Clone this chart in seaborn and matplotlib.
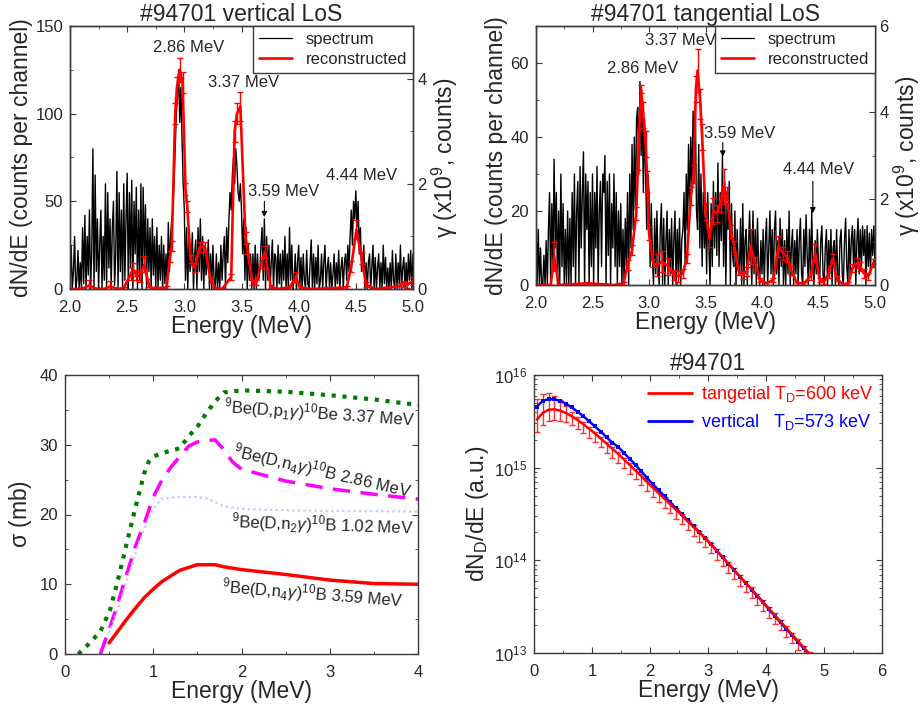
import numpy as np
import matplotlib
matplotlib.use('Agg')
import matplotlib.pyplot as plt
from matplotlib.lines import Line2D
from matplotlib.ticker import MultipleLocator, LogLocator, NullFormatter
import seaborn as sns

sns.set_style('ticks')
plt.rcParams['font.family'] = ['Liberation Sans', 'DejaVu Sans']
plt.rcParams['mathtext.fontset'] = 'custom'
plt.rcParams['mathtext.rm'] = 'Liberation Sans'
plt.rcParams['mathtext.it'] = 'Liberation Sans:italic'
plt.rcParams['mathtext.bf'] = 'Liberation Sans:bold'

# ---------------------------------------------------------------- data
# gamma spectra, channel energy grid 2.00 .. 5.00 MeV (0.01 MeV)
spec_energy = np.round(2.0 + 0.01 * np.arange(301), 2)

vert_counts = [
    0, 25, 0, 10, 30, 0, 5, 22, 0, 15,
    0, 35, 3, 42, 0, 30, 8, 45, 0, 20,
    80, 0, 65, 10, 40, 0, 25, 45, 0, 30,
    5, 60, 0, 55, 12, 40, 0, 35, 50, 2,
    20, 67, 0, 55, 10, 45, 0, 60, 5, 40,
    66, 0, 55, 12, 62, 0, 50, 20, 58, 0,
    45, 5, 60, 0, 58, 15, 48, 0, 40, 10,
    35, 0, 40, 8, 30, 0, 35, 0, 25, 5,
    30, 0, 25, 3, 20, 0, 38, 10, 30, 40,
    45, 60, 80, 100, 110, 125, 95, 115, 85, 60,
    45, 5, 35, 0, 30, 10, 15, 32, 0, 20,
    28, 0, 35, 10, 40, 5, 30, 0, 25, 8,
    15, 28, 0, 20, 0, 25, 5, 0, 20, 0,
    15, 0, 25, 5, 20, 30, 0, 35, 15, 40,
    55, 45, 65, 75, 60, 80, 70, 55, 50, 60,
    45, 20, 40, 5, 35, 0, 25, 5, 20, 0,
    20, 0, 25, 0, 20, 5, 10, 25, 35, 5,
    40, 0, 30, 5, 25, 0, 15, 28, 0, 20,
    18, 0, 25, 3, 20, 0, 22, 5, 30, 0,
    20, 0, 35, 5, 25, 0, 5, 20, 0, 15,
    25, 0, 18, 0, 20, 5, 0, 22, 3, 0,
    15, 28, 0, 20, 0, 18, 3, 25, 0, 5,
    20, 0, 15, 25, 0, 12, 18, 0, 15, 0,
    8, 20, 0, 15, 3, 22, 0, 12, 18, 0,
    15, 20, 5, 25, 10, 30, 45, 25, 50, 40,
    56, 35, 50, 20, 35, 10, 15, 25, 0, 15,
    0, 15, 20, 0, 12, 25, 0, 18, 0, 12,
    20, 0, 15, 0, 25, 3, 18, 0, 12, 0,
    15, 0, 22, 5, 0, 20, 0, 15, 3, 25,
    0, 12, 18, 0, 15, 0, 20, 5, 22, 0, 20,
]

tang_counts = [
    19, 0, 15, 0, 10, 0, 0, 8, 0, 12,
    0, 15, 25, 0, 22, 5, 34, 10, 25, 0,
    20, 0, 30, 5, 22, 0, 15, 0, 20, 0,
    18, 0, 25, 5, 30, 0, 20, 28, 0, 32,
    10, 25, 36, 0, 30, 15, 28, 0, 25, 5,
    30, 0, 25, 10, 32, 0, 20, 28, 5, 30,
    25, 35, 0, 28, 8, 30, 0, 22, 10, 30,
    5, 25, 0, 20, 5, 22, 0, 15, 0, 18,
    5, 25, 0, 30, 10, 38, 15, 40, 20, 45,
    48, 30, 55, 35, 50, 25, 45, 30, 15, 30,
    25, 5, 22, 8, 0, 18, 3, 20, 5, 0,
    15, 22, 0, 18, 0, 12, 20, 0, 15, 3,
    18, 0, 12, 20, 0, 15, 3, 18, 0, 12,
    15, 25, 5, 30, 15, 38, 20, 40, 25, 47,
    35, 48, 20, 15, 38, 10, 30, 5, 25, 10,
    20, 3, 25, 10, 0, 22, 5, 28, 10, 25,
    8, 33, 5, 25, 12, 35, 5, 28, 0, 22,
    15, 28, 0, 22, 8, 5, 20, 0, 15, 5,
    3, 18, 0, 22, 0, 12, 15, 0, 10, 20,
    8, 0, 20, 3, 15, 0, 18, 5, 0, 12,
    3, 15, 0, 12, 18, 0, 10, 20, 3, 15,
    0, 15, 20, 3, 12, 0, 18, 5, 15, 0,
    12, 0, 15, 3, 20, 0, 10, 15, 0, 12,
    3, 15, 0, 12, 18, 3, 0, 15, 5, 19,
    8, 0, 15, 3, 20, 5, 0, 12, 3, 15,
    5, 0, 12, 16, 3, 0, 10, 15, 0, 12,
    3, 15, 0, 10, 12, 0, 15, 3, 0, 12,
    15, 3, 0, 12, 18, 5, 0, 15, 3, 12,
    16, 5, 15, 0, 12, 18, 3, 15, 5, 16,
    8, 15, 0, 16, 5, 14, 3, 15, 8, 16, 5,
]

# reconstructed gamma yield (x1e9 counts), vertical LoS
vert_rec_e = [2.00, 2.10, 2.17, 2.22, 2.30, 2.35, 2.42, 2.47, 2.535, 2.55,
              2.58, 2.61, 2.65, 2.685, 2.71, 2.815, 2.845, 2.875, 2.89, 2.92,
              2.935, 2.96, 2.985, 3.01, 3.025, 3.055, 3.09, 3.135, 3.18, 3.23,
              3.27, 3.33, 3.41, 3.44, 3.46, 3.49, 3.535, 3.55, 3.595, 3.63,
              3.675, 3.705, 3.755, 3.81, 3.92, 3.975, 4.01, 4.10, 4.42, 4.46,
              4.505, 4.55, 4.59, 4.665, 4.88, 4.91, 4.95, 5.00]
vert_rec = [0, 0, 0.07, 0.01, 0, 0.05, 0, 0.02, 0.30, 0.37,
            0.27, 0.23, 0.47, 0.11, 0.02, 0.02, 0.03, 0.62, 0.82, 3.33,
            3.83, 4.17, 3.93, 1.90, 1.57, 0.57, 0.40, 0.80, 0.80, 0.17,
            0.02, 0, 0.23, 3.00, 3.33, 3.47, 0.97, 0.77, 0.13, 0.13,
            0.50, 0.70, 0.05, 0, 0.03, 0.23, 0.03, 0, 0.03, 0.43,
            1.13, 0.59, 0.08, 0, 0.05, 0.10, 0.08, 0.15]
vert_rec_err = [0.01, 0.01, 0.10, 0.01, 0.01, 0.10, 0.01, 0.02, 0.12, 0.12,
                0.10, 0.10, 0.15, 0.08, 0.02, 0.02, 0.03, 0.10, 0.10, 0.20,
                0.20, 0.23, 0.20, 0.12, 0.10, 0.08, 0.08, 0.10, 0.10, 0.06,
                0.02, 0.01, 0.06, 0.20, 0.20, 0.27, 0.12, 0.10, 0.05, 0.05,
                0.10, 0.11, 0.03, 0.01, 0.03, 0.10, 0.03, 0.01, 0.03, 0.10,
                0.18, 0.12, 0.05, 0.01, 0.06, 0.06, 0.06, 0.08]

# reconstructed gamma yield (x1e9 counts), tangential LoS
tang_rec_e = [2.00, 2.13, 2.162, 2.20, 2.45, 2.69, 2.775, 2.81, 2.85, 2.887,
              2.905, 2.93, 2.95, 2.97, 2.985, 3.00, 3.035, 3.07, 3.115, 3.17,
              3.22, 3.26, 3.30, 3.335, 3.37, 3.395, 3.415, 3.43, 3.455, 3.47,
              3.50, 3.535, 3.57, 3.60, 3.635, 3.66, 3.69, 3.725, 3.755, 3.79,
              3.83, 3.865, 3.90, 3.94, 3.98, 4.04, 4.10, 4.145, 4.185, 4.22,
              4.26, 4.31, 4.37, 4.43, 4.47, 4.51, 4.55, 4.59, 4.625, 4.66,
              4.72, 4.765, 4.80, 4.84, 4.87, 4.90, 4.94, 4.985]
tang_rec = [0, 0, 0.66, 0, 0.04, 0, 0.04, 0.46, 0.81, 1.66,
            2.97, 4.54, 3.94, 3.26, 2.40, 1.20, 0.51, 0.46, 0.54, 0.43,
            0.23, 0.20, 0.27, 0.62, 2.06, 2.57, 4.54, 4.97, 4.20, 3.43,
            1.71, 1.08, 1.71, 1.66, 1.89, 2.28, 2.06, 1.23, 0.89, 0.34,
            0.23, 0.31, 0.89, 0.51, 0.12, 0.04, 0.12, 0.89, 0.74, 0.66,
            0.34, 0.04, 0.04, 0.20, 0.74, 0.12, 0.08, 0.27, 0.62, 0.15,
            0, 0.04, 0.39, 0.51, 0.43, 0.27, 0.20, 0.51]
tang_rec_err = [0.01, 0.01, 0.34, 0.01, 0.03, 0.01, 0.03, 0.12, 0.12, 0.15,
                0.30, 0.10, 0.30, 0.30, 0.25, 0.15, 0.10, 0.25, 0.25, 0.20,
                0.12, 0.12, 0.10, 0.10, 0.20, 0.20, 0.30, 0.50, 0.35, 0.30,
                0.20, 0.20, 0.30, 0.20, 0.20, 0.40, 0.20, 0.15, 0.12, 0.10,
                0.10, 0.10, 0.40, 0.15, 0.05, 0.03, 0.05, 0.25, 0.15, 0.12,
                0.10, 0.03, 0.03, 0.08, 0.20, 0.05, 0.05, 0.10, 0.10, 0.05,
                0.01, 0.03, 0.10, 0.12, 0.10, 0.10, 0.08, 0.10]

# cross sections (mb)
xs_p1_e = [0.15, 0.25, 0.4, 0.51, 0.6, 0.7, 0.8, 0.9, 0.95, 1.0, 1.1,
           1.3, 1.4, 1.5, 1.6, 1.7, 1.8, 2.0, 2.5, 3.0, 3.5, 4.0]
xs_p1 = [0, 1.2, 3.2, 6.3, 10.6, 15.9, 21.1, 26.0, 27.6, 28.3, 28.8,
         29.5, 31.2, 32.6, 34.5, 36.2, 37.5, 37.8, 37.6, 37.1, 36.5, 35.7]
xs_n4_286_e = [0.4, 0.5, 0.6, 0.7, 0.8, 0.9, 1.0, 1.1, 1.2, 1.3, 1.4,
               1.5, 1.6, 1.7, 1.8, 1.9, 2.0, 2.5, 3.0, 3.5, 4.0]
xs_n4_286 = [0, 3.5, 7.3, 11.5, 15.5, 18.8, 22.5, 25.0, 26.8, 28.3, 29.8,
             30.4, 30.6, 30.7, 29.3, 27.5, 26.5, 24.8, 23.7, 22.9, 22.2]
xs_n2_e = [0.5, 0.6, 0.7, 0.8, 0.9, 1.0, 1.1, 1.3, 1.5, 1.6, 1.7, 1.8,
           2.0, 2.5, 3.0, 3.5, 4.0]
xs_n2 = [3.0, 6.5, 10.5, 14.5, 18.0, 20.8, 22.3, 22.5, 22.5, 22.3, 21.8, 21.2,
         20.8, 20.6, 20.5, 20.5, 20.4]
xs_n4_359_e = [0.5, 0.6, 0.7, 0.8, 0.9, 1.0, 1.1, 1.2, 1.3, 1.4, 1.5, 1.6,
               1.7, 1.8, 2.0, 2.5, 3.0, 3.5, 4.0]
xs_n4_359 = [1.6, 3.3, 5.0, 6.6, 8.1, 9.3, 10.4, 11.2, 12.0, 12.4, 12.8, 12.8,
             12.8, 12.5, 12.1, 11.4, 10.6, 10.1, 10.0]

# deuteron energy distribution, log10(dN_D/dE)
edf_energy = np.round(0.05 + 0.1 * np.arange(48), 2)
edf_vert_log = [15.66, 15.72, 15.74, 15.74, 15.72, 15.69, 15.65, 15.605,
                15.555, 15.50, 15.445, 15.39, 15.33, 15.27, 15.225, 15.16,
                15.095, 15.03, 14.96, 14.89, 14.82, 14.755, 14.69, 14.625,
                14.56, 14.495, 14.43, 14.37, 14.305, 14.24, 14.175, 14.105,
                14.035, 13.965, 13.895, 13.825, 13.755, 13.685, 13.615, 13.545,
                13.47, 13.40, 13.33, 13.26, 13.19, 13.12, 13.05, 12.98]
edf_tang_log = [15.52, 15.59, 15.625, 15.63, 15.615, 15.59, 15.555, 15.515,
                15.47, 15.42, 15.37, 15.315, 15.26, 15.205, 15.15, 15.09,
                15.03, 14.97, 14.91, 14.845, 14.785, 14.725, 14.665, 14.605,
                14.545, 14.485, 14.42, 14.36, 14.30, 14.24, 14.175, 14.105,
                14.035, 13.965, 13.895, 13.825, 13.755, 13.69, 13.62, 13.55,
                13.48, 13.41, 13.34, 13.27, 13.20, 13.13, 13.06, 12.99]
# relative error bars (fraction of value) of the tangential distribution
edf_tang_err_up = [0.68, 0.60, 0.50, 0.40, 0.30, 0.20, 0.12, 0.08, 0.05, 0.04,
                   0.04, 0.04, 0.04, 0.04, 0.04, 0.04, 0.04, 0.04, 0.04, 0.04,
                   0.04, 0.04, 0.04, 0.04, 0.04, 0.04, 0.04, 0.04, 0.04, 0.04,
                   0.04, 0.04, 0.04, 0.04, 0.04, 0.04, 0.04, 0.04, 0.04, 0.04,
                   0.04, 0.04, 0.04, 0.04, 0.04, 0.04, 0.04, 0.04]
edf_tang_err_lo = [0.26, 0.25, 0.24, 0.23, 0.22, 0.21, 0.20, 0.20, 0.20, 0.20,
                   0.20, 0.20, 0.20, 0.20, 0.20, 0.20, 0.20, 0.20, 0.20, 0.20,
                   0.20, 0.20, 0.20, 0.20, 0.20, 0.20, 0.20, 0.20, 0.20, 0.20,
                   0.20, 0.20, 0.20, 0.20, 0.20, 0.20, 0.20, 0.20, 0.20, 0.20,
                   0.20, 0.20, 0.20, 0.20, 0.20, 0.20, 0.20, 0.20]

# ---------------------------------------------------------------- style
FS_TICK = 12
FS_LAB = 16.5
FS_ANN = 12
SPINE = '#3a3a3a'

W, H = 922, 706
fig = plt.figure(figsize=(W / 100, H / 100), dpi=100)


def box(left, right, top, bottom):
    return [left / W, 1 - bottom / H, (right - left) / W, (bottom - top) / H]


def style_axes(ax, top=True, right=True):
    for s in ax.spines.values():
        s.set_color(SPINE)
        s.set_linewidth(1.0)
    ax.tick_params(which='both', direction='in', top=top, right=right,
                   labelsize=FS_TICK, color=SPINE)
    ax.tick_params(axis='x', pad=8)
    ax.tick_params(axis='y', pad=5)
    ax.tick_params(which='major', length=4)
    ax.tick_params(which='minor', length=2.5)


def spectrum_panel(rect, counts, rec_e, rec, rec_err, ymax, gmax, ymaj, title, notes):
    ax = fig.add_axes(rect)
    sns.lineplot(x=spec_energy, y=counts, ax=ax, color='black', lw=1.0)
    ax.set_xlim(2.0, 5.0)
    ax.set_ylim(0, ymax)
    ax.xaxis.set_major_locator(MultipleLocator(0.5))
    ax.xaxis.set_minor_locator(MultipleLocator(0.25))
    ax.yaxis.set_major_locator(MultipleLocator(ymaj))
    ax.yaxis.set_minor_locator(MultipleLocator(ymaj / 2))
    style_axes(ax, top=True, right=False)
    ax.set_xlabel('Energy (MeV)', fontsize=FS_LAB, labelpad=0)
    ax.set_ylabel('dN/dE (counts per channel)', fontsize=FS_LAB, labelpad=2)
    ax.set_title(title, fontsize=FS_LAB, pad=3)

    ax2 = ax.twinx()
    ax2.errorbar(rec_e, rec, yerr=rec_err, color='red', lw=1.9, elinewidth=1,
                 capsize=2.5, capthick=1)
    ax2.set_ylim(0, gmax)
    ax2.yaxis.set_major_locator(MultipleLocator(2))
    ax2.yaxis.set_minor_locator(MultipleLocator(1))
    style_axes(ax2, top=False, right=True)
    ax2.tick_params(which='both', left=False)
    ax2.tick_params(axis='y', pad=3)
    ax2.set_ylabel(r'$\mathrm{\gamma}$ (x10$^{9}$, counts)', fontsize=FS_LAB,
                   labelpad=2)

    for txt, x, y, arrow in notes:
        ax.text(x, y, txt, fontsize=FS_ANN, ha='center', va='center')
        if arrow is not None:
            ax.annotate('', xy=(arrow[0], arrow[2]), xytext=(arrow[0], arrow[1]),
                        arrowprops=dict(arrowstyle='-|>', color='black', lw=0.8,
                                        mutation_scale=8, shrinkA=0, shrinkB=0))

    handles = [Line2D([], [], color='black', lw=0.9),
               Line2D([], [], color='red', lw=1.9)]
    leg = ax2.legend(handles, ['spectrum', 'reconstructed'], loc='upper right',
                     fontsize=FS_ANN, fancybox=False, framealpha=1,
                     edgecolor=SPINE, borderaxespad=0, handlelength=2.0,
                     borderpad=0.35, labelspacing=0.3)
    leg.get_frame().set_linewidth(1.0)
    return ax, ax2


# ---------------------------------------------------------------- top left
spectrum_panel(box(70, 413, 26, 289), vert_counts, vert_rec_e, vert_rec, vert_rec_err,
               150, 5, 50, '#94701 vertical LoS',
               [('2.86 MeV', 3.04, 137.5, None),
                ('3.37 MeV', 3.52, 118, None),
                ('3.59 MeV', 3.87, 55.5, (3.70, 50, 41)),
                ('4.44 MeV', 4.55, 65, None)])

# ---------------------------------------------------------------- top right
spectrum_panel(box(536, 875, 26, 285), tang_counts, tang_rec_e, tang_rec, tang_rec_err,
               70, 6, 20, '#94701 tangential LoS',
               [('2.86 MeV', 2.94, 58.4, None),
                ('3.37 MeV', 3.28, 66.2, None),
                ('3.59 MeV', 3.80, 40.9, (3.653, 38.5, 34.7)),
                ('4.44 MeV', 4.50, 31.1, (4.45, 28.0, 19.4))])

# ---------------------------------------------------------------- bottom left
ax3 = fig.add_axes(box(65, 418, 375, 654))
sns.lineplot(x=xs_p1_e, y=xs_p1, ax=ax3, color='#007a00', lw=3,
             linestyle=(0, (1.0, 1.6)))
sns.lineplot(x=xs_n4_286_e, y=xs_n4_286, ax=ax3, color='#ff00ff', lw=2.5,
             linestyle=(0, (5, 3)))
sns.lineplot(x=xs_n2_e, y=xs_n2, ax=ax3, color='#c8c8f4', lw=1.6,
             linestyle=(0, (1, 1.5)))
sns.lineplot(x=xs_n4_359_e, y=xs_n4_359, ax=ax3, color='#ff0000', lw=2.5)
ax3.set_xlim(0, 4)
ax3.set_ylim(0, 40)
ax3.xaxis.set_major_locator(MultipleLocator(1))
ax3.xaxis.set_minor_locator(MultipleLocator(0.5))
ax3.yaxis.set_major_locator(MultipleLocator(10))
ax3.yaxis.set_minor_locator(MultipleLocator(5))
style_axes(ax3)
ax3.set_xlabel('Energy (MeV)', fontsize=FS_LAB, labelpad=0)
ax3.set_ylabel(r'$\mathrm{\sigma}$ (mb)', fontsize=FS_LAB, labelpad=4)

xs_labels = [
    (r'$^{9}$Be(D,p$_{1}\gamma$)$^{10}$Be 3.37 MeV', 2.88, 34.5, -4),
    (r'$^{9}$Be(D,n$_{4}\gamma$)$^{10}$B 2.86 MeV', 2.92, 26.2, -13),
    (r'$^{9}$Be(D,n$_{2}\gamma$)$^{10}$B 1.02 MeV', 2.92, 18.6, -2),
    (r'$^{9}$Be(D,n$_{4}\gamma$)$^{10}$B 3.59 MeV', 2.81, 8.7, -4.5),
]
for txt, x, y, rot in xs_labels:
    ax3.text(x, y, txt, fontsize=FS_ANN, ha='center', va='center',
             rotation=rot, rotation_mode='anchor')

# ---------------------------------------------------------------- bottom right
ax4 = fig.add_axes(box(534, 882, 375, 653))
tang_vals = 10 ** np.array(edf_tang_log)
vert_vals = 10 ** np.array(edf_vert_log)
yerr = [tang_vals * np.array(edf_tang_err_lo), tang_vals * np.array(edf_tang_err_up)]
ax4.errorbar(edf_energy, tang_vals, yerr=yerr, color='red', lw=1.8,
             elinewidth=1, capsize=2.5, capthick=1, ecolor='#ff3030')
sns.lineplot(x=edf_energy, y=vert_vals, ax=ax4, color='blue', lw=1.8,
             marker='s', markersize=3, markeredgewidth=0)
ax4.set_yscale('log')
ax4.set_xlim(0, 6)
ax4.set_ylim(1e13, 1e16)
ax4.xaxis.set_major_locator(MultipleLocator(1))
ax4.xaxis.set_minor_locator(MultipleLocator(0.5))
ax4.yaxis.set_major_locator(LogLocator(base=10, numticks=10))
ax4.yaxis.set_minor_locator(LogLocator(base=10, subs=np.arange(2, 10), numticks=10))
ax4.yaxis.set_minor_formatter(NullFormatter())
style_axes(ax4)
ax4.set_xlabel('Energy (MeV)', fontsize=FS_LAB, labelpad=0)
ax4.set_ylabel(r'dN$_\mathrm{D}$/dE (a.u.)', fontsize=FS_LAB, labelpad=2)
ax4.set_title('#94701', fontsize=FS_LAB, pad=3)
handles = [Line2D([], [], color='red', lw=2), Line2D([], [], color='blue', lw=2)]
ax4.legend(handles, [r'tangetial T$_\mathrm{D}$=600 keV',
                     r'vertical   T$_\mathrm{D}$=573 keV'],
           labelcolor=['red', 'blue'], loc='upper right', frameon=False,
           fontsize=13, handlelength=2.4, borderaxespad=0.1, labelspacing=0.4,
           handletextpad=0.5)

fig.savefig('out.png', dpi=100)
